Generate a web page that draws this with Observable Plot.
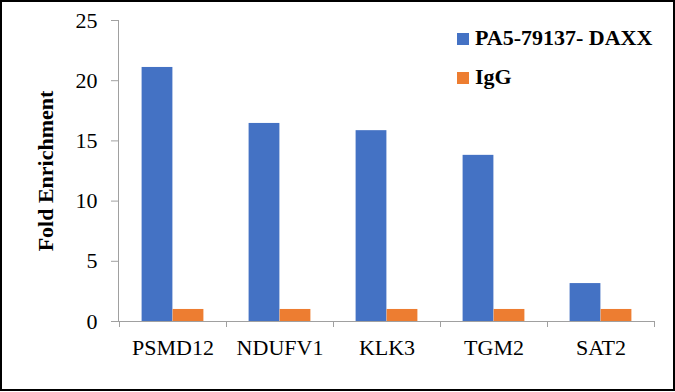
<!DOCTYPE html>
<html>
<head>
<meta charset="utf-8">
<script src="https://cdn.jsdelivr.net/npm/d3@7"></script>
<script src="https://cdn.jsdelivr.net/npm/@observablehq/plot@0.6"></script>
<style>
  html, body { margin: 0; padding: 0; background: #fff; }
  #wrap { position: relative; width: 675px; height: 392px; overflow: hidden; background: #fff; }
  #border { position: absolute; left: 0; top: 0; width: 675px; height: 391px; box-sizing: border-box; border: 2px solid #000; pointer-events: none; }
  #wrap svg text { font-family: "Liberation Serif", serif !important; }
  .legend { position: absolute; font-family: "Liberation Serif", serif; font-weight: bold; font-size: 22px; color: #000; white-space: nowrap; }
  .legend .sw { position: absolute; width: 12px; height: 12px; }
  .legend .lab { position: absolute; line-height: 1; }
</style>
</head>
<body>
<div id="wrap"><div id="border"></div></div>
<script>
const genes = ["PSMD12", "NDUFV1", "KLK3", "TGM2", "SAT2"];
const daxx = [21.1, 16.45, 15.85, 13.8, 3.15];
const igg = [1.0, 1.0, 1.0, 1.0, 1.0];
const seriesNames = ["PA5-79137- DAXX", "IgG"];
const seriesColors = ["#4472C4", "#ED7D31"];
const yTicks = [0, 5, 10, 15, 20, 25];
const yTitle = "Fold Enrichment";

const W = 675, H = 392;
const mL = 118, mR = 21, mT = 20, mB = 71;
const band = (W - mL - mR) / genes.length;
const barW = 31;
const outer = (band - 2 * barW) / 2;

const daxxRows = genes.map((g, i) => ({gene: g, value: daxx[i], series: seriesNames[0]}));
const iggRows = genes.map((g, i) => ({gene: g, value: igg[i], series: seriesNames[1]}));

const plot = Plot.plot({
  width: W, height: H,
  marginLeft: mL, marginRight: mR, marginTop: mT, marginBottom: mB,
  style: {fontFamily: "'Liberation Serif', serif", fontSize: "22px", color: "#000", background: "transparent", overflow: "visible"},
  x: {domain: genes, paddingInner: 0, paddingOuter: 0, label: null},
  y: {domain: [0, 25], label: null},
  color: {domain: seriesNames, range: seriesColors},
  marks: [
    Plot.barY(daxxRows, {x: "gene", y: "value", fill: "series", insetLeft: outer, insetRight: band - outer - barW}),
    Plot.barY(iggRows, {x: "gene", y: "value", fill: "series", insetLeft: outer + barW, insetRight: outer}),
    Plot.ruleY([0], {stroke: "#a0a0a0", strokeWidth: 1}),
    Plot.axisY({ticks: yTicks, tickSize: 7, tickPadding: 14, stroke: "#a0a0a0", label: null, fill: "#000", fontSize: 22}),
    Plot.axisX({tickSize: 0, tickPadding: 18, label: null, fill: "#000", fontSize: 22}),
    Plot.text([yTitle], {frameAnchor: "left", textAnchor: "middle", rotate: -90, dx: -73, fontWeight: "bold", fontSize: 22, fill: "#000"})
  ]
});

// y axis line and category boundary ticks, positions taken from the scales
const xs = plot.scale("x"), ys = plot.scale("y");
const svg = d3.select(plot);
const y0 = ys.apply(0), yTop = ys.apply(25);
svg.append("line")
  .attr("x1", mL + 0.5).attr("x2", mL + 0.5)
  .attr("y1", yTop).attr("y2", y0)
  .attr("stroke", "#a0a0a0");
const bounds = genes.map(g => xs.apply(g)).concat([xs.apply(genes[genes.length - 1]) + xs.bandwidth]);
svg.selectAll("line.bt").data(bounds).join("line")
  .attr("class", "bt")
  .attr("x1", d => Math.round(d) + 0.5).attr("x2", d => Math.round(d) + 0.5)
  .attr("y1", y0).attr("y2", y0 + 6)
  .attr("stroke", "#a0a0a0");

const wrap = document.getElementById("wrap");
wrap.insertBefore(plot, wrap.firstChild);

// legend
const legend = document.createElement("div");
legend.className = "legend";
legend.style.left = "457px";
legend.style.top = "0px";
const legendTops = [33, 72];
seriesNames.forEach((name, i) => {
  const sw = document.createElement("div");
  sw.className = "sw";
  sw.style.background = seriesColors[i];
  sw.style.left = "0px";
  sw.style.top = legendTops[i] + "px";
  const lab = document.createElement("div");
  lab.className = "lab";
  lab.textContent = name;
  lab.style.left = "18px";
  lab.style.top = (legendTops[i] - 6) + "px";
  legend.appendChild(sw);
  legend.appendChild(lab);
});
wrap.appendChild(legend);
</script>
</body>
</html>
